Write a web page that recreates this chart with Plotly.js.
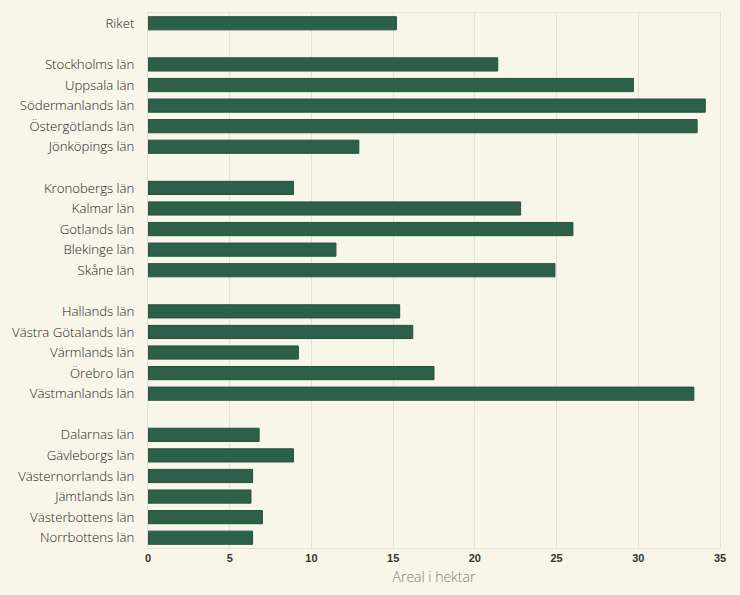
<!DOCTYPE html>
<html>
<head>
<meta charset="utf-8">
<script src="https://cdn.plot.ly/plotly-3.0.1.min.js"></script>
<style>
  html, body { margin: 0; padding: 0; background: #f8f5e9; }
  #chart { width: 740px; height: 595px; }
</style>
</head>
<body>
<div id="chart"></div>
<script>
// län, with blank rows between the regional groups
var lan = [
    'Riket', ' ',
    'Stockholms län', 'Uppsala län', 'Södermanlands län', 'Östergötlands län', 'Jönköpings län', '  ',
    'Kronobergs län', 'Kalmar län', 'Gotlands län', 'Blekinge län', 'Skåne län', '   ',
    'Hallands län', 'Västra Götalands län', 'Värmlands län', 'Örebro län', 'Västmanlands län', '    ',
    'Dalarnas län', 'Gävleborgs län', 'Västernorrlands län', 'Jämtlands län', 'Västerbottens län', 'Norrbottens län'
];

// areal i hektar
var areal = [
    15.2, null,
    21.4, 29.7, 34.1, 33.6, 12.9, null,
    8.9, 22.8, 26.0, 11.5, 24.9, null,
    15.4, 16.2, 9.2, 17.5, 33.4, null,
    6.8, 8.9, 6.4, 6.3, 7.0, 6.4
];

var xticks = [0, 5, 10, 15, 20, 25, 30, 35];

var bars = {
    type: 'bar',
    orientation: 'h',
    x: areal,
    y: lan,
    marker: {color: '#2d6049', line: {color: '#24503c', width: 1}},
    hoverinfo: 'x+y'
};

var layout = {
    width: 740,
    height: 595,
    margin: {l: 148, r: 20, t: 13, b: 47},
    paper_bgcolor: '#f8f5e9',
    plot_bgcolor: '#f8f5e9',
    bargap: 0.36,
    showlegend: false,
    xaxis: {
        range: [0, 35],
        tickvals: xticks,
        ticktext: xticks.map(String),
        showgrid: true,
        gridcolor: '#e3e0d6',
        gridwidth: 1,
        zeroline: false,
        showline: true,
        mirror: true,
        linecolor: '#e3e0d6',
        ticks: '',
        tickfont: {family: 'Liberation Sans Narrow, Arial Narrow, sans-serif', size: 11, color: '#333', weight: 'bold'},
        title: {text: 'Areal i hektar', font: {family: 'Open Sans, sans-serif', size: 14, color: '#7d7d7d', weight: 300}, standoff: 8}
    },
    yaxis: {
        type: 'category',
        autorange: 'reversed',
        showgrid: false,
        zeroline: false,
        showline: true,
        mirror: true,
        linecolor: '#e3e0d6',
        ticks: 'outside',
        ticklen: 10,
        tickcolor: 'rgba(0,0,0,0)',
        tickfont: {family: 'Open Sans, sans-serif', size: 13.2, color: '#222', weight: 300}
    },
    font: {family: 'Open Sans, sans-serif'}
};

Plotly.newPlot('chart', [bars], layout, {displayModeBar: false, staticPlot: true});
</script>
</body>
</html>
